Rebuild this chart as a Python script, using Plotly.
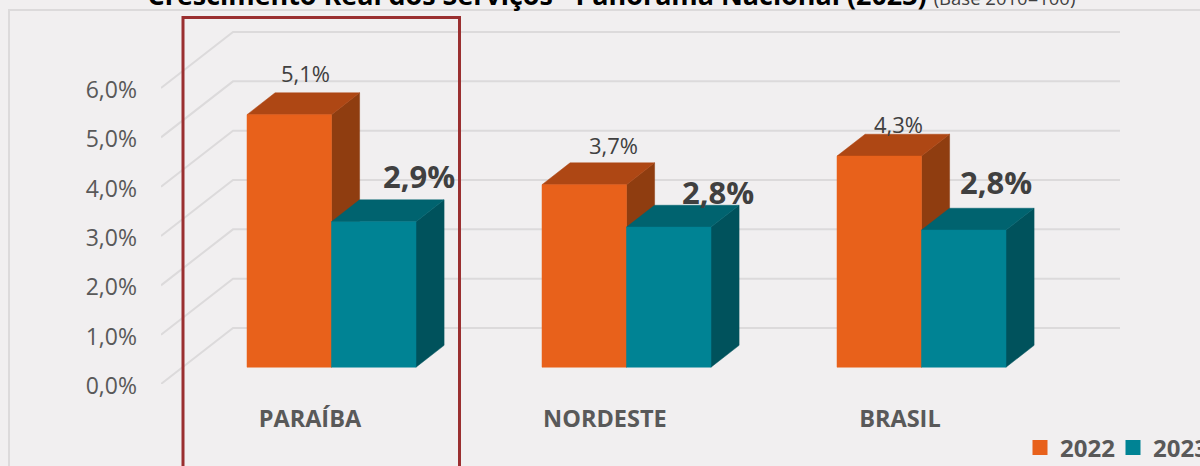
import plotly.graph_objects as go

# ---- data ----
categories = ["PARAÍBA", "NORDESTE", "BRASIL"]
series_2022 = [5.12, 3.70, 4.28]
series_2023 = [2.95, 2.84, 2.78]
labels_2022 = ["5,1%", "3,7%", "4,3%"]
labels_2023 = ["2,9%", "2,8%", "2,8%"]
y_ticks = [0, 1, 2, 3, 4, 5, 6]
y_tick_labels = ["0,0%", "1,0%", "2,0%", "3,0%", "4,0%", "5,0%", "6,0%"]

# ---- layout geometry (pixels) ----
W, H = 1200, 466
PL, PR, PT, PB = 161, 1120, 20, 384     # plot area left/right/top/bottom
PX_PER_CAT = 295.0
PX_PER_UNIT = 49.33
X0 = 309.9                               # pixel of first category at the front wall
x_range = [(PL - X0) / PX_PER_CAT, (PR - X0) / PX_PER_CAT]
y_range = [0, (PB - PT) / PX_PER_UNIT]

# oblique projection: depth 0 = front of the floor, depth 1 = back wall
DEPTH_DX = 72 / PX_PER_CAT
DEPTH_DY = 56 / PX_PER_UNIT
BAR_D0, BAR_D1 = 0.30, 0.69
BAR_W = 84.5 / PX_PER_CAT


def proj(x, v, d):
    return x + d * DEPTH_DX, v + d * DEPTH_DY


def poly(points):
    xs, ys = [], []
    for x, v, d in points:
        px, py = proj(x, v, d)
        xs.append(px)
        ys.append(py)
    xs += [xs[0], None]
    ys += [ys[0], None]
    return xs, ys


def faces(values, slot):
    front, top, side = ([], []), ([], []), ([], [])
    for i, v in enumerate(values):
        a = i + (slot - 1) * BAR_W
        b = a + BAR_W
        for store, pts in (
            (side, [(b, 0, BAR_D0), (b, 0, BAR_D1), (b, v, BAR_D1), (b, v, BAR_D0)]),
            (top, [(a, v, BAR_D0), (a, v, BAR_D1), (b, v, BAR_D1), (b, v, BAR_D0)]),
            (front, [(a, 0, BAR_D0), (b, 0, BAR_D0), (b, v, BAR_D0), (a, v, BAR_D0)]),
        ):
            xs, ys = poly(pts)
            store[0].extend(xs)
            store[1].extend(ys)
    return front, top, side


fig = go.Figure()

# walls' gridlines
gx, gy = [], []
for t in y_ticks:
    for x, d in ((x_range[0], 0), (x_range[0], 1)):
        px, py = proj(x, t, d)
        gx.append(px)
        gy.append(py)
    gx.append(x_range[1])
    gy.append(gy[-1])
    gx.append(None)
    gy.append(None)
fig.add_trace(go.Scatter(x=gx, y=gy, mode="lines", line=dict(color="#dcdadb", width=2),
                         showlegend=False, hoverinfo="skip", cliponaxis=False))

styles = [
    (series_2022, 0, "#e8611b", "#ae4714", "#8f3d10", "2022"),
    (series_2023, 1, "#008394", "#00636f", "#00525c", "2023"),
]
for values, slot, c_front, c_top, c_side, name in styles:
    front, top, side = faces(values, slot)
    for (xs, ys), color, nm in ((side, c_side, name + " lateral"),
                                (top, c_top, name + " topo"),
                                (front, c_front, name)):
        fig.add_trace(go.Scatter(x=xs, y=ys, mode="lines", fill="toself", fillcolor=color,
                                 line=dict(color=color, width=0.5), name=nm, showlegend=False,
                                 hoverinfo="skip", cliponaxis=False))

# legend entries
for _, _, c_front, _, _, name in styles:
    fig.add_trace(go.Scatter(x=[None], y=[None], mode="markers", name=name,
                             marker=dict(symbol="square", size=15, color=c_front)))

# data labels, placed by hand around each bar as in the reference
offs_2022 = [(16, -42), (29, -40), (19, -32)]
offs_2023 = [(45, -46), (49, -35), (32, -48)]
for values, labels, offs, slot, size, bold in (
    (series_2022, labels_2022, offs_2022, 0, 22, False),
    (series_2023, labels_2023, offs_2023, 1, 31, True),
):
    for i, (v, lab, (dx, dy)) in enumerate(zip(values, labels, offs)):
        cx, cy = proj(i + (slot - 0.5) * BAR_W, v, BAR_D0)
        fig.add_annotation(x=cx, y=cy, text=f"<b>{lab}</b>" if bold else lab, showarrow=False,
                           xshift=dx, yshift=-dy, xanchor="center", yanchor="middle",
                           font=dict(family="Open Sans", size=size, color="#404040"))

# highlight rectangle and outer frame (page pixels turned into paper fractions)
def fx(p):
    return (p - PL) / (PR - PL)


def fy(p):
    return (PB - p) / (PB - PT)


fig.add_shape(type="rect", xref="paper", yref="paper", x0=fx(183), x1=fx(459.5), y0=fy(480), y1=fy(17.5),
              line=dict(color="#9a2f30", width=3), fillcolor="rgba(0,0,0,0)", layer="above")
fig.add_shape(type="rect", xref="paper", yref="paper", x0=fx(9), x1=fx(1230), y0=fy(500), y1=fy(10),
              line=dict(color="#dcdadb", width=2), fillcolor="rgba(0,0,0,0)", layer="below")

fig.update_layout(
    width=W, height=H, autosize=False,
    margin=dict(l=PL, r=W - PR, t=PT, b=H - PB, pad=0),
    paper_bgcolor="#f1eff0", plot_bgcolor="rgba(0,0,0,0)",
    font=dict(family="Open Sans", color="#595959"),
    title=dict(
        text='<b>Crescimento Real dos Serviços - Panorama Nacional (2023)</b> '
             '<span style="font-size:18.5px;font-weight:normal;color:#404040">(Base 2010=100)</span>',
        font=dict(family="Open Sans", size=26.9, color="#000000"),
        x=(148 + 1075) / 2 / W, xanchor="center", y=1 - 4.5 / H, yanchor="bottom", xref="container", yref="container",
    ),
    xaxis=dict(range=x_range, tickmode="array", tickvals=[0, 1, 2], ticktext=[f"<b>{c}</b>" for c in categories],
               showgrid=False, zeroline=False, showline=False, ticks="", ticklabelstandoff=18,
               tickfont=dict(family="Open Sans", size=23.5, color="#595959"), automargin=False),
    yaxis=dict(range=y_range, tickmode="array", tickvals=y_ticks, ticktext=y_tick_labels,
               showgrid=False, zeroline=False, showline=False, ticks="", ticklabelstandoff=23, ticklabelshift=2,
               tickfont=dict(family="Open Sans", size=23, color="#595959"), automargin=False),
    legend=dict(orientation="h", x=1020 / W, xanchor="left", y=1 - 448 / H, yanchor="middle",
                xref="container", yref="container",
                font=dict(family="Open Sans", size=24, color="#595959", weight="bold"),
                bgcolor="rgba(0,0,0,0)", itemsizing="trace", itemwidth=30, tracegroupgap=0,
                entrywidth=48, entrywidthmode="pixels"),
)
fig.write_html("out.html", config=dict(displayModeBar=False),
               post_script="document.body.style.margin='0';document.body.style.overflow='hidden';")
